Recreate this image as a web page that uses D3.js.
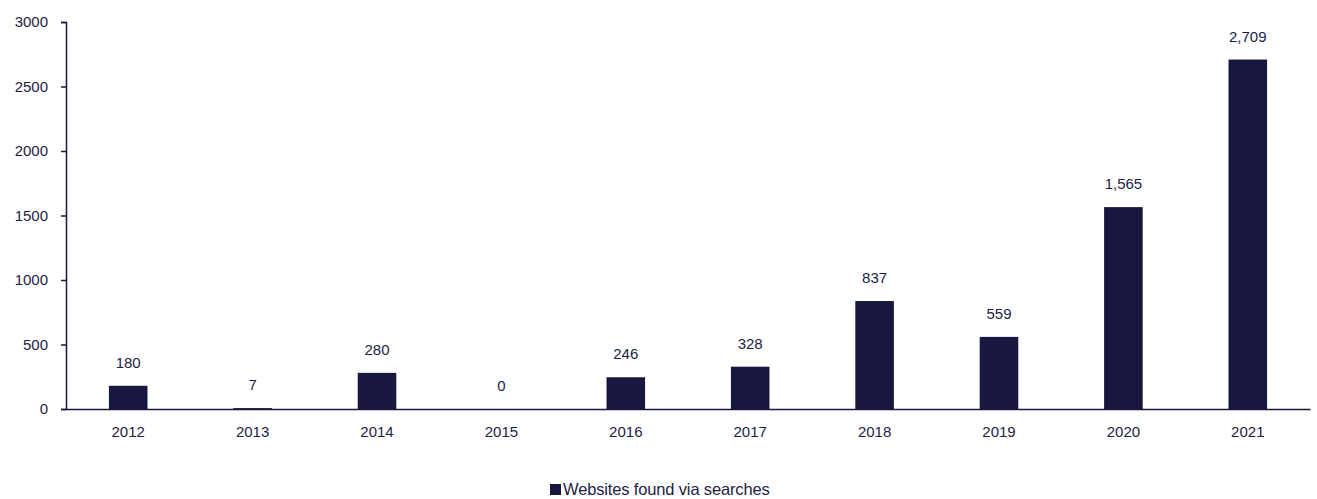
<!DOCTYPE html>
<html>
<head>
<meta charset="utf-8">
<script src="https://cdn.jsdelivr.net/npm/d3@7"></script>
<style>
  body { margin: 0; background: #fff; }
  svg text { font-family: "Liberation Sans", Arial, sans-serif; fill: #1e1d45; }
</style>
</head>
<body>
<script>
var years = ["2012", "2013", "2014", "2015", "2016", "2017", "2018", "2019", "2020", "2021"];
var websites = [180, 7, 280, 0, 246, 328, 837, 559, 1565, 2709];
var yTicks = [0, 500, 1000, 1500, 2000, 2500, 3000];
var seriesName = "Websites found via searches";

var W = 1317, H = 499;
var mLeft = 66, mRight = 1310, mTop = 22, mBottom = 409;
var navy = "#18173f";

var svg = d3.select("body").append("svg")
  .attr("width", W).attr("height", H);

var x = d3.scaleBand().domain(years).range([mLeft, mRight])
  .paddingInner(0.69).paddingOuter(0.345);
var y = d3.scaleLinear().domain([0, 3000]).range([mBottom, mTop]);

// bars
svg.selectAll("rect.bar").data(websites).enter()
  .append("rect")
  .attr("class", "bar")
  .attr("x", function(d, i) { return x(years[i]); })
  .attr("width", x.bandwidth())
  .attr("y", function(d) { return y(d); })
  .attr("height", function(d) { return mBottom - y(d); })
  .attr("fill", navy);

// value labels
svg.selectAll("text.val").data(websites).enter()
  .append("text")
  .attr("class", "val")
  .attr("x", function(d, i) { return x(years[i]) + x.bandwidth() / 2; })
  .attr("y", function(d) { return y(d) - 18; })
  .attr("text-anchor", "middle")
  .style("font-size", "15px")
  .text(function(d) { return d3.format(",")(d); });

// y axis
var yAxis = svg.append("g")
  .attr("transform", "translate(" + mLeft + ",0)")
  .call(d3.axisLeft(y).tickValues(yTicks).tickSize(5).tickPadding(13).tickFormat(d3.format("d")));
yAxis.select(".domain").attr("stroke", navy).attr("stroke-width", 1.5);
yAxis.selectAll(".tick line").attr("stroke", navy).attr("stroke-width", 1.5);
yAxis.selectAll(".tick text").style("font-size", "15px").attr("fill", "#1e1d45");

// x axis
var xAxis = svg.append("g")
  .attr("transform", "translate(0," + mBottom + ")")
  .call(d3.axisBottom(x).tickSize(0).tickPadding(17));
xAxis.select(".domain").attr("stroke", navy).attr("stroke-width", 1.5);
xAxis.selectAll(".tick text").style("font-size", "15px").attr("fill", "#1e1d45");

// legend
var lg = svg.append("g");
lg.append("rect").attr("x", 550).attr("y", 484).attr("width", 11).attr("height", 11).attr("fill", navy);
lg.append("text").attr("x", 563).attr("y", 495)
  .style("font-size", "16.5px")
  .style("letter-spacing", "-0.15px")
  .text(seriesName);
</script>
</body>
</html>
